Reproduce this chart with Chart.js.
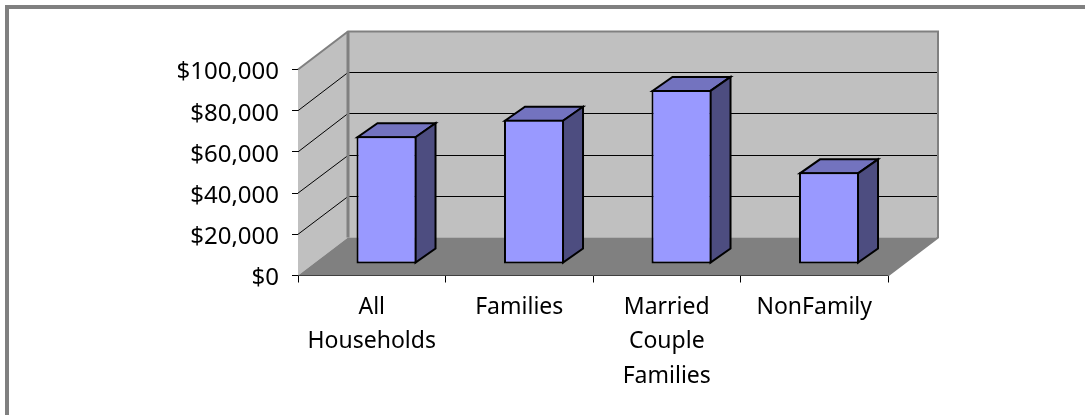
<!DOCTYPE html>
<html>
<head>
<meta charset="utf-8">
<style>html,body{margin:0;padding:0;background:#fff;overflow:hidden}canvas{display:block}</style>
<script src="https://cdn.jsdelivr.net/npm/chart.js@4"></script>
</head>
<body>
<canvas id="c" width="1085" height="415"></canvas>
<script>
const categories = [['All','Households'],['Families'],['Married','Couple','Families'],['NonFamily']];
const seriesName = 'Median Income';
const values = [62000, 70000, 84500, 44500];
const yMin = 0, yMax = 100000, yStep = 20000;

const WALL = {dx: 50, dy: -38};
const BAR_SHIFT = {dx: 14.75, dy: -11.5};
const BAR_DEPTH = {dx: 20, dy: -14};
const Y_LABEL_DROP = 3;

const scene = {
  id: 'scene',
  beforeDraw(chart) {
    const c = chart.ctx;
    c.save();
    c.fillStyle = '#fff';
    c.fillRect(0, 0, chart.width, chart.height);
    c.fillStyle = '#808080';
    c.fillRect(5, 5, chart.width - 5, 4);
    c.fillRect(5, 5, 4, chart.height - 5);
    c.restore();
  },
  beforeDatasetsDraw(chart) {
    const c = chart.ctx, a = chart.chartArea, y = chart.scales.y;
    const {dx, dy} = WALL;
    const L = a.left, R = a.right, T = a.top, B = a.bottom;
    const poly = (pts, fill) => {
      c.beginPath();
      pts.forEach((p, i) => i ? c.lineTo(p[0], p[1]) : c.moveTo(p[0], p[1]));
      c.closePath();
      if (fill) { c.fillStyle = fill; c.fill(); }
    };
    c.save();
    poly([[L,B],[L,T],[L+dx,T+dy],[L+dx,B+dy]], '#c0c0c0');
    poly([[L+dx,B+dy],[L+dx,T+dy],[R+dx,T+dy],[R+dx,B+dy]], '#c0c0c0');
    poly([[L,B],[L+dx,B+dy],[R+dx,B+dy],[R,B]], '#808080');
    c.strokeStyle = '#000';
    c.lineWidth = 1;
    for (let v = yMin + yStep; v < yMax; v += yStep) {
      const py = y.getPixelForValue(v);
      const backY = Math.floor(py + dy) + 0.5;
      c.beginPath();
      c.moveTo(L, py); c.lineTo(L+dx, backY); c.lineTo(R+dx, backY);
      c.stroke();
    }
    c.strokeStyle = '#808080';
    c.lineWidth = 2;
    c.beginPath();
    c.moveTo(L, T); c.lineTo(L+dx, T+dy); c.lineTo(R+dx, T+dy); c.lineTo(R+dx, B+dy); c.lineTo(R, B);
    c.stroke();
    c.lineWidth = 3;
    c.beginPath();
    c.moveTo(L+dx, T+dy); c.lineTo(L+dx, B+dy);
    c.stroke();

    chart.getDatasetMeta(0).data.forEach(bar => {
      const x0 = bar.x - bar.width/2 + BAR_SHIFT.dx + 1, x1 = bar.x + bar.width/2 + BAR_SHIFT.dx - 1;
      const y0 = bar.y + BAR_SHIFT.dy + 1, y1 = bar.base + BAR_SHIFT.dy - 1;
      const ddx = BAR_DEPTH.dx, ddy = BAR_DEPTH.dy;
      c.lineWidth = 2; c.strokeStyle = '#000'; c.lineJoin = 'miter';
      poly([[x0,y0],[x1,y0],[x1+ddx,y0+ddy],[x0+ddx,y0+ddy]], '#7373bf'); c.stroke();
      poly([[x1,y0],[x1+ddx,y0+ddy],[x1+ddx,y1+ddy],[x1,y1]], '#4d4d80'); c.stroke();
    });
    c.restore();
  },
  beforeDatasetDraw(chart) {
    chart.ctx.save();
    chart.ctx.translate(BAR_SHIFT.dx, BAR_SHIFT.dy);
  },
  afterDatasetDraw(chart) {
    chart.ctx.restore();
  }
};

new Chart(document.getElementById('c'), {
  type: 'bar',
  data: {
    labels: categories,
    datasets: [{
      label: seriesName,
      data: values,
      backgroundColor: '#9999ff',
      borderColor: '#000',
      borderWidth: 2,
      borderSkipped: false,
      barPercentage: 0.407,
      categoryPercentage: 1,
      clip: false
    }]
  },
  options: {
    responsive: false,
    animation: false,
    layout: {padding: {top: 69.5, right: 197, bottom: 0, left: 0}},
    plugins: {legend: {display: false}, title: {display: false}, tooltip: {enabled: false}},
    scales: {
      x: {
        afterFit(s) { s.height = 139.5; },
        border: {color: '#000', width: 1},
        grid: {display: true, drawOnChartArea: false, drawTicks: true, tickLength: 7, color: '#000', offset: true},
        ticks: {color: '#000', font: {family: '"Noto Sans"', size: 23, lineHeight: 1.52}, maxRotation: 0, autoSkip: false, padding: 7}
      },
      y: {
        min: yMin, max: yMax,
        afterFit(s) {
          s.width = 298;
          if (!s._dropWrapped) {
            s._dropWrapped = true;
            const orig = s.drawLabels;
            s.drawLabels = function (area) {
              this.ctx.save();
              this.ctx.translate(0, Y_LABEL_DROP);
              orig.call(this, area);
              this.ctx.restore();
            };
          }
        },
        border: {color: '#000', width: 1},
        grid: {display: true, drawOnChartArea: false, drawTicks: true, tickLength: 6, color: '#000'},
        ticks: {
          stepSize: yStep, color: '#000', padding: 13,
          font: {family: '"Noto Sans"', size: 24},
          callback: v => '$' + v.toLocaleString('en-US')
        }
      }
    }
  },
  plugins: [scene]
});
</script>
</body>
</html>
